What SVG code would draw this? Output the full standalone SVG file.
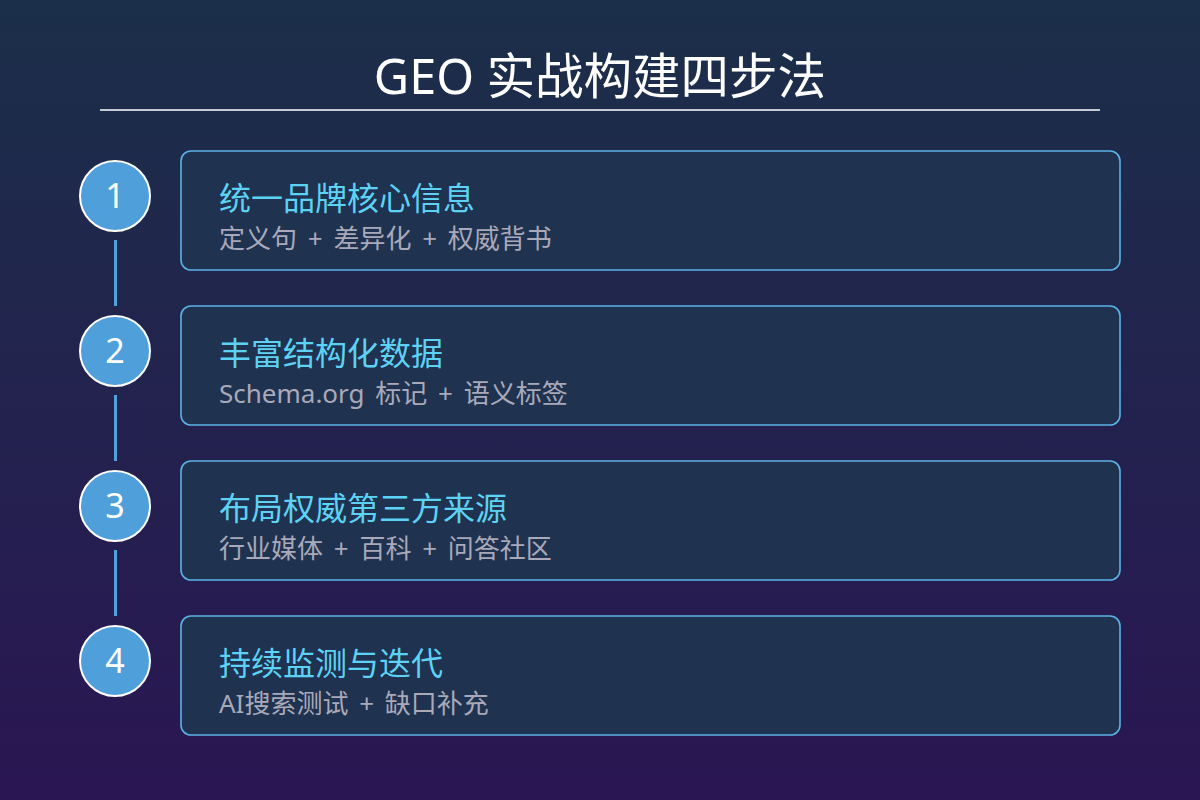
<svg xmlns="http://www.w3.org/2000/svg" width="1200" height="800" viewBox="0 0 1200 800">
  <defs>
    <linearGradient id="bg" x1="0" y1="0" x2="0" y2="1">
      <stop offset="0" stop-color="#1b2f49"/>
      <stop offset="1" stop-color="#2a1653"/>
    </linearGradient>
    <style>
      .card { fill: #1f3250; stroke: #5cb2e6; stroke-width: 1.6; }
      .badge { fill: #4f9fdb; stroke: #ffffff; stroke-width: 2; }
      .num { font-family: "Noto Sans", "DejaVu Sans", sans-serif; font-size: 34px; fill: #ffffff; text-anchor: middle; }
      .head { font-family: "Noto Sans CJK SC", "Noto Sans", sans-serif; font-size: 32px; fill: #5dd2f4; }
      .sub { font-family: "Noto Sans", "Noto Sans CJK SC", sans-serif; font-size: 26px; fill: #a9a9b9; word-spacing: 4px; }
      .link { stroke: #4ea3dd; stroke-width: 3; }
    </style>
  </defs>
  <rect width="1200" height="800" fill="url(#bg)"/>
  <g id="title">
    <text x="600" y="94" text-anchor="middle" font-family="Noto Sans, Noto Sans CJK SC, sans-serif" font-size="48.5" fill="#ffffff">GEO 实战构建四步法</text>
    <line x1="100" y1="110" x2="1100" y2="110" stroke="#ffffff" stroke-width="1.5"/>
  </g>
  <g id="connectors">
    <line class="link" x1="115.5" y1="240" x2="115.5" y2="306"/>
    <line class="link" x1="115.5" y1="395" x2="115.5" y2="461"/>
    <line class="link" x1="115.5" y1="550" x2="115.5" y2="616"/>
  </g>
  <g id="step1">
    <rect class="card" x="181" y="151" width="939" height="119" rx="10"/>
    <circle class="badge" cx="115" cy="196" r="35"/>
    <text class="num" x="115" y="208">1</text>
    <text class="head" x="219" y="210">统一品牌核心信息</text>
    <text class="sub" x="219" y="248">定义句 + 差异化 + 权威背书</text>
  </g>
  <g id="step2">
    <rect class="card" x="181" y="306" width="939" height="119" rx="10"/>
    <circle class="badge" cx="115" cy="351" r="35"/>
    <text class="num" x="115" y="363">2</text>
    <text class="head" x="219" y="365">丰富结构化数据</text>
    <text class="sub" x="219" y="403">Schema.org 标记 + 语义标签</text>
  </g>
  <g id="step3">
    <rect class="card" x="181" y="461" width="939" height="119" rx="10"/>
    <circle class="badge" cx="115" cy="506" r="35"/>
    <text class="num" x="115" y="518">3</text>
    <text class="head" x="219" y="520">布局权威第三方来源</text>
    <text class="sub" x="219" y="558">行业媒体 + 百科 + 问答社区</text>
  </g>
  <g id="step4">
    <rect class="card" x="181" y="616" width="939" height="119" rx="10"/>
    <circle class="badge" cx="115" cy="661" r="35"/>
    <text class="num" x="115" y="673">4</text>
    <text class="head" x="219" y="675">持续监测与迭代</text>
    <text class="sub" x="219" y="713">AI搜索测试 + 缺口补充</text>
  </g>
</svg>
